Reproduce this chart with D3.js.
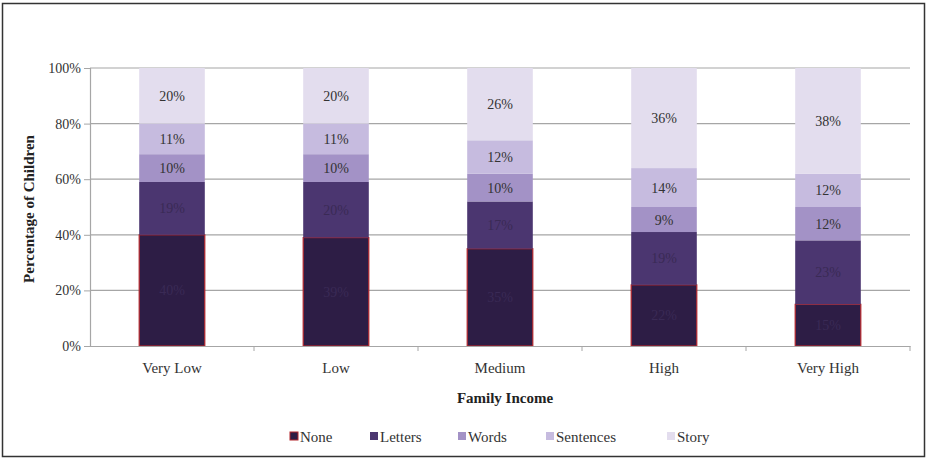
<!DOCTYPE html>
<html>
<head>
<meta charset="utf-8">
<script src="https://cdn.jsdelivr.net/npm/d3@7"></script>
</head>
<body style="margin:0;background:#fff">
<div id="chart"></div>
<script>
//data
const categories = ['Very Low', 'Low', 'Medium', 'High', 'Very High']
const levels = ['None', 'Letters', 'Words', 'Sentences', 'Story']
const none      = [40, 39, 35, 22, 15]
const letters   = [19, 20, 17, 19, 23]
const words     = [10, 10, 10,  9, 12]
const sentences = [11, 11, 12, 14, 12]
const story     = [20, 20, 26, 36, 38]
const yTicks = [0, 20, 40, 60, 80, 100]

const colors = ['#2d1d45', '#4b3670', '#a392c6', '#c6bbdf', '#e3ddee']
const serif = '"Liberation Serif"'

//dimensions
const dimensions = {
  width: 927,
  height: 460,
  margin: { top: 68, right: 17, bottom: 114, left: 90 }
}
const innerW = dimensions.width - dimensions.margin.left - dimensions.margin.right
const innerH = dimensions.height - dimensions.margin.top - dimensions.margin.bottom

const rows = categories.map((c, i) => ({
  category: c,
  None: none[i], Letters: letters[i], Words: words[i],
  Sentences: sentences[i], Story: story[i]
}))
const stacked = d3.stack().keys(levels)(rows)

const svg = d3.select('#chart')
  .append('svg')
  .attr('width', dimensions.width)
  .attr('height', dimensions.height)

//frame
svg.append('rect')
  .attr('x', 2.5).attr('y', 3.5)
  .attr('width', 922).attr('height', 453)
  .attr('fill', 'none')
  .attr('stroke', '#333')
  .attr('stroke-width', 1.5)

const g = svg.append('g')
  .attr('transform', `translate(${dimensions.margin.left},${dimensions.margin.top})`)

//scales
const x = d3.scaleBand().domain(categories).range([0, innerW]).paddingInner(0.6).paddingOuter(0.3)
const xOuter = d3.scaleBand().domain(categories).range([0, innerW])
const y = d3.scaleLinear().domain([0, 100]).range([innerH, 0])
const color = d3.scaleOrdinal().domain(levels).range(colors)

//gridlines
g.append('g')
  .selectAll('line')
  .data(yTicks.filter(d => d > 0))
  .join('line')
  .attr('x1', 0).attr('x2', innerW)
  .attr('y1', d => y(d)).attr('y2', d => y(d))
  .attr('stroke', '#a6a6a6')
  .attr('stroke-width', 1.2)

//bars
const layer = g.selectAll('.layer')
  .data(stacked)
  .join('g')
  .attr('class', 'layer')
  .attr('fill', d => color(d.key))

layer.selectAll('rect')
  .data(d => d)
  .join('rect')
  .attr('x', d => x(d.data.category))
  .attr('width', x.bandwidth())
  .attr('y', d => y(d[1]))
  .attr('height', d => y(d[0]) - y(d[1]))
  .attr('stroke', function () {
    return d3.select(this.parentNode).datum().key === 'None' ? '#b3262c' : 'none'
  })
  .attr('stroke-width', 1.2)

//value labels
layer.selectAll('text')
  .data(d => d.map(v => ({ v, key: d.key })))
  .join('text')
  .attr('x', d => x(d.v.data.category) + x.bandwidth() / 2)
  .attr('y', d => (y(d.v[0]) + y(d.v[1])) / 2 + 5)
  .attr('text-anchor', 'middle')
  .attr('font-size', 14)
  .attr('fill', d => (d.key === 'None' || d.key === 'Letters') ? '#3a2a55' : '#333')
  .style('font-family', serif)
  .text(d => d.v.data[d.key] + '%')

//y axis
const yAxis = g.append('g')
  .call(d3.axisLeft(y).tickValues(yTicks).tickSize(6).tickFormat(d => d + '%'))
yAxis.select('.domain').attr('stroke', '#a6a6a6').attr('stroke-width', 1.2)
yAxis.selectAll('.tick line').attr('stroke', '#a6a6a6')
yAxis.selectAll('.tick text')
  .attr('font-size', 14).attr('fill', '#333')
  .style('font-family', serif)

//x axis
const xAxis = g.append('g')
  .attr('transform', `translate(0,${innerH})`)
  .call(d3.axisBottom(xOuter).tickSize(0).tickPadding(16))
xAxis.select('.domain').attr('stroke', '#a6a6a6').attr('stroke-width', 1.2)
xAxis.selectAll('.tick text')
  .attr('font-size', 15).attr('fill', '#333')
  .style('font-family', serif)

//category separator ticks
g.append('g')
  .selectAll('line')
  .data(categories)
  .join('line')
  .attr('x1', d => xOuter(d) + xOuter.bandwidth())
  .attr('x2', d => xOuter(d) + xOuter.bandwidth())
  .attr('y1', innerH).attr('y2', innerH + 5)
  .attr('stroke', '#a6a6a6')

//axis titles
svg.append('text')
  .attr('x', dimensions.margin.left + innerW / 2 + 5)
  .attr('y', 403)
  .attr('text-anchor', 'middle')
  .attr('font-size', 15)
  .attr('font-weight', 'bold')
  .attr('fill', '#222')
  .style('font-family', serif)
  .text('Family Income')

svg.append('text')
  .attr('transform', `translate(34,${dimensions.margin.top + innerH / 2 + 2}) rotate(-90)`)
  .attr('text-anchor', 'middle')
  .attr('font-size', 15)
  .attr('font-weight', 'bold')
  .attr('fill', '#222')
  .style('font-family', serif)
  .text('Percentage of Children')

//legend
const legendX = [290, 370, 458, 546, 667]
const legend = svg.append('g')
  .selectAll('g')
  .data(levels)
  .join('g')
  .attr('transform', (d, i) => `translate(${legendX[i]},442)`)

legend.append('rect')
  .attr('x', 0).attr('y', -10)
  .attr('width', 8).attr('height', 8)
  .attr('fill', d => color(d))
  .attr('stroke', d => d === 'None' ? '#b3262c' : 'none')

legend.append('text')
  .attr('x', 10).attr('y', 0)
  .attr('font-size', 15)
  .attr('fill', '#333')
  .style('font-family', serif)
  .text(d => d)
</script>
</body>
</html>
